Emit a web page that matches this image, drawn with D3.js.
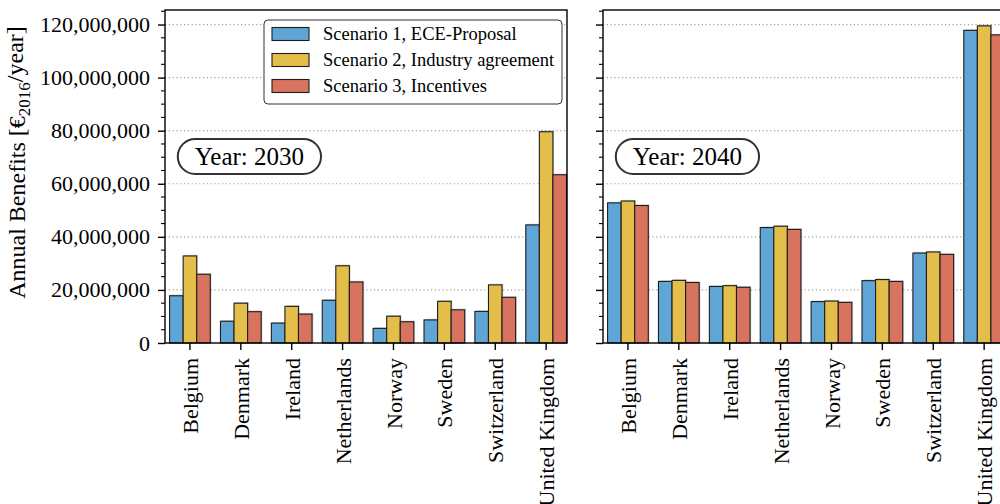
<!DOCTYPE html>
<html>
<head>
<meta charset="utf-8">
<script src="https://cdn.jsdelivr.net/npm/d3@7"></script>
<style>
  body { margin: 0; background: #fff; }
  svg { display: block; font-family: "Liberation Serif", "Times New Roman", serif; }
</style>
</head>
<body>
<svg id="chart" width="1000" height="504"></svg>
<script>
// Countries on the x axis
const countries = ["Belgium", "Denmark", "Ireland", "Netherlands", "Norway", "Sweden", "Switzerland", "United Kingdom"];

// Scenario names and colours
const scenarioNames = ["Scenario 1, ECE-Proposal", "Scenario 2, Industry agreement", "Scenario 3, Incentives"];
const scenarioColors = ["#5fa5d6", "#e3be4a", "#d8735f"];

// Annual benefits in €2016/year, year 2030
const benefits2030S1 = [17.8e6, 8.2e6, 7.5e6, 16.1e6, 5.5e6, 8.7e6, 11.9e6, 44.5e6];
const benefits2030S2 = [32.8e6, 15.0e6, 13.8e6, 29.1e6, 10.1e6, 15.7e6, 21.9e6, 79.6e6];
const benefits2030S3 = [25.9e6, 11.8e6, 10.9e6, 23.0e6, 8.0e6, 12.5e6, 17.2e6, 63.4e6];

// Annual benefits in €2016/year, year 2040
const benefits2040S1 = [52.8e6, 23.2e6, 21.3e6, 43.5e6, 15.6e6, 23.5e6, 33.9e6, 117.8e6];
const benefits2040S2 = [53.5e6, 23.6e6, 21.6e6, 44.0e6, 15.8e6, 23.9e6, 34.3e6, 119.5e6];
const benefits2040S3 = [51.8e6, 22.8e6, 21.0e6, 42.8e6, 15.3e6, 23.2e6, 33.4e6, 116.1e6];

// Y axis ticks
const yTickValues = [0, 20e6, 40e6, 60e6, 80e6, 100e6, 120e6];
const yMinorStep = 5e6;

const panels = [
  { year: "2030", left: 165, series: [benefits2030S1, benefits2030S2, benefits2030S3], tickLabels: true, legend: true },
  { year: "2040", left: 603, series: [benefits2040S1, benefits2040S2, benefits2040S3], tickLabels: false, legend: false }
];

const svg = d3.select("#chart");
const panelWidth = 402;
const plotTop = 10, plotBottom = 343;

const allValues = panels.flatMap(p => p.series.flat());
const y = d3.scaleLinear()
  .domain([0, d3.max(allValues) * 1.05])
  .range([plotBottom, plotTop]);

const barW = 0.8 / 3;
const fmt = d3.format(",");

panels.forEach(panel => {
  const x = d3.scaleLinear()
    .domain([-0.49, countries.length - 0.59])
    .range([panel.left, panel.left + panelWidth]);
  const g = svg.append("g");

  // dotted grid at major ticks
  g.selectAll("line.grid").data(yTickValues.filter(v => v > 0)).join("line")
    .attr("class", "grid")
    .attr("x1", panel.left).attr("x2", panel.left + panelWidth)
    .attr("y1", d => y(d)).attr("y2", d => y(d))
    .attr("stroke", "#a0a0a0").attr("stroke-width", 1.2)
    .attr("stroke-dasharray", "1.2,2.6");

  // bars
  panel.series.forEach((vals, j) => {
    const offset = (j - 1) * barW - barW / 2;
    g.selectAll(null).data(vals).join("rect")
      .attr("x", (d, i) => x(i + offset) + 1.2)
      .attr("y", d => y(d) - 1.2)
      .attr("width", (d, i) => x(i + offset + barW) - x(i + offset))
      .attr("height", d => y(0) - y(d) + 1.2)
      .attr("fill", "#000").attr("opacity", 0.18);
    g.selectAll(null).data(vals).join("rect")
      .attr("x", (d, i) => x(i + offset))
      .attr("y", d => y(d))
      .attr("width", (d, i) => x(i + offset + barW) - x(i + offset))
      .attr("height", d => y(0) - y(d))
      .attr("fill", scenarioColors[j])
      .attr("stroke", "#1e1e1e").attr("stroke-width", 1.1);
  });

  // spines
  g.append("rect")
    .attr("x", panel.left).attr("y", plotTop)
    .attr("width", panelWidth).attr("height", plotBottom - plotTop)
    .attr("fill", "none").attr("stroke", "#000").attr("stroke-width", 1.4);

  // y axis major + minor ticks
  const yAxis = d3.axisLeft(y).tickValues(yTickValues).tickSize(7).tickPadding(8)
    .tickFormat(panel.tickLabels ? (d => fmt(d)) : "");
  const ya = g.append("g").attr("transform", `translate(${panel.left},0)`).call(yAxis);
  ya.select(".domain").remove();
  ya.selectAll(".tick line").attr("stroke-width", 1.4);
  ya.selectAll(".tick text").attr("font-size", 22).attr("fill", "#000")
    .attr("font-family", "Liberation Serif, serif");
  const minor = d3.range(0, y.domain()[1] + 1, yMinorStep).filter(v => v % 20e6 !== 0);
  g.selectAll("line.minor").data(minor).join("line")
    .attr("class", "minor")
    .attr("x1", panel.left - 4).attr("x2", panel.left)
    .attr("y1", d => y(d)).attr("y2", d => y(d))
    .attr("stroke", "#000").attr("stroke-width", 1.1);

  // x axis ticks and country labels
  const xa = g.append("g").attr("transform", `translate(0,${plotBottom})`);
  xa.selectAll("line").data(countries).join("line")
    .attr("x1", (d, i) => x(i)).attr("x2", (d, i) => x(i))
    .attr("y1", 0).attr("y2", 7)
    .attr("stroke", "#000").attr("stroke-width", 1.4);
  xa.selectAll("text").data(countries).join("text")
    .attr("transform", (d, i) => `translate(${x(i) + 1},${15}) rotate(-90)`)
    .attr("text-anchor", "end")
    .attr("dy", "0.32em")
    .attr("font-size", 22)
    .text(d => d);

  // year badge
  const cx = panel.left + 0.21 * panelWidth;
  const cy = y(y.domain()[1] * 0.56);
  const badge = g.append("g");
  const t = badge.append("text")
    .attr("x", cx).attr("y", cy).attr("dy", "0.35em")
    .attr("text-anchor", "middle").attr("font-size", 25)
    .text(`Year: ${panel.year}`);
  const tw = t.node().getComputedTextLength();
  const bw = tw + 34, bh = 35;
  badge.insert("rect", "text")
    .attr("x", cx - bw / 2).attr("y", cy - bh / 2)
    .attr("width", bw).attr("height", bh)
    .attr("rx", bh / 2).attr("ry", bh / 2)
    .attr("fill", "#fff").attr("stroke", "#333").attr("stroke-width", 2);

  // legend
  if (panel.legend) {
    const lg = g.append("g").attr("transform", "translate(264,20)");
    lg.append("rect")
      .attr("width", 298).attr("height", 84).attr("rx", 4)
      .attr("fill", "#fff").attr("fill-opacity", 0.9)
      .attr("stroke", "#333").attr("stroke-width", 1);
    scenarioNames.forEach((name, j) => {
      const ry = 14 + j * 26;
      lg.append("rect")
        .attr("x", 8).attr("y", ry - 6.5)
        .attr("width", 37).attr("height", 13)
        .attr("fill", scenarioColors[j]).attr("stroke", "#1e1e1e").attr("stroke-width", 1.1);
      lg.append("text")
        .attr("x", 59).attr("y", ry).attr("dy", "0.35em")
        .attr("font-size", 18.5)
        .text(name);
    });
  }
});

// y axis title with subscript
const yTitle = svg.append("text")
  .attr("transform", `translate(25,${(plotTop + plotBottom) / 2 - 14}) rotate(-90)`)
  .attr("text-anchor", "middle")
  .attr("font-size", 24);
yTitle.append("tspan").text("Annual Benefits [€");
yTitle.append("tspan").attr("font-size", 17).attr("dy", "0.3em").text("2016");
yTitle.append("tspan").attr("dy", "-0.3em").text("/year]");
</script>
</body>
</html>
